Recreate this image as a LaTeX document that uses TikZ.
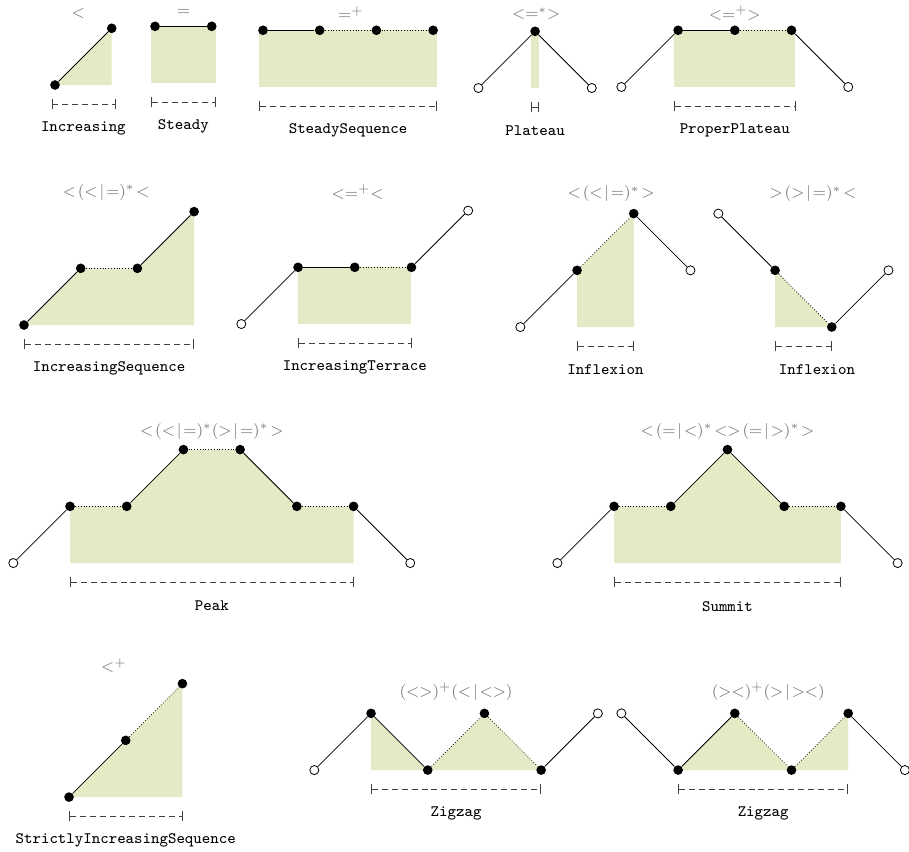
\documentclass[tikz,border=0pt]{standalone}
\usepackage{amsmath}
\usepackage{tikz}
\usetikzlibrary{arrows.meta}
\definecolor{cfill}{HTML}{E2EBC6}
\definecolor{cgray}{HTML}{7A7A7A}

\begin{document}
\begin{tikzpicture}[
  dot/.style={circle, fill=black, inner sep=0pt, minimum size=0.17cm},
  hollow/.style={circle, draw=black, fill=white, inner sep=0pt, minimum size=0.16cm, line width=0.4pt},
  seg/.style={line width=0.4pt},
  dseg/.style={line width=0.4pt, densely dotted},
  area/.style={fill=cfill},
  measure/.style={black!75, line width=0.45pt, dash pattern=on 3pt off 2pt, {Bar[width=5pt]}-{Bar[width=5pt]}},
  rx/.style={cgray, font={\footnotesize\thickmuskip=2mu}},
  lbl/.style={font=\footnotesize\ttfamily}
]
  \useasboundingbox (0,0) rectangle (16.03,-15.01);

  % Increasing
  \begin{scope}[shift={(0.970,-1.499)}]
    \fill[area] (0,0) -- (1,1) -- (1,0) -- cycle;
    \node[dot] (inc0) at (0,0) {};
    \node[dot] (inc1) at (1,1) {};
    \draw[seg] (inc0) -- (inc1);
    \draw[measure] (-0.06,-0.34) -- (1.07,-0.34);
    \node[rx] (inc-rx) at (0.41,1.26) {$<$};
    \node[lbl] (inc-lbl) at (0.5,-0.76) {Increasing};
  \end{scope}

  % Steady
  \begin{scope}[shift={(2.734,-1.464)}]
    \fill[area] (-0.07,0) rectangle (1.07,1);
    \node[dot] (std0) at (0,1) {};
    \node[dot] (std1) at (1,1) {};
    \draw[seg] (std0) -- (std1);
    \draw[measure] (-0.07,-0.34) -- (1.07,-0.34);
    \node[rx] (std-rx) at (0.5,1.24) {$=$};
    \node[lbl] (std-lbl) at (0.5,-0.76) {Steady};
  \end{scope}

  % SteadySequence
  \begin{scope}[shift={(4.638,-1.534)}]
    \fill[area] (-0.07,0) rectangle (3.07,1);
    \foreach \i in {0,...,3}
      \node[dot] (sts\i) at (\i,1) {};
    \foreach \u/\v/\s in {sts0/sts1/seg, sts1/sts2/dseg, sts2/sts3/dseg}
      \draw[\s] (\u) -- (\v);
    \draw[measure] (-0.07,-0.34) -- (3.07,-0.34);
    \node[rx] (sts-rx) at (1.55,1.3) {$=^+$};
    \node[lbl] (sts-lbl) at (1.5,-0.76) {SteadySequence};
  \end{scope}

  % Plateau
  \begin{scope}[shift={(9.436,-1.552)}]
    \fill[area] (-0.07,0) rectangle (0.07,1);
    \node[hollow] (plt0) at (-1,0) {};
    \node[dot] (plt1) at (0,1) {};
    \node[hollow] (plt2) at (1,0) {};
    \draw[seg] (plt0) -- (plt1) -- (plt2);
    \draw[measure] (-0.07,-0.34) -- (0.07,-0.34);
    \node[rx] (plt-rx) at (0.02,1.31) {$<=^*>$};
    \node[lbl] (plt-lbl) at (0,-0.76) {Plateau};
  \end{scope}

  % ProperPlateau
  \begin{scope}[shift={(11.958,-1.534)}]
    \fill[area] (-0.07,0) rectangle (2.07,1);
    \node[hollow] (ppl0) at (-1,0) {};
    \foreach \i in {1,2,3}
      \node[dot] (ppl\i) at (\i-1,1) {};
    \node[hollow] (ppl4) at (3,0) {};
    \foreach \u/\v/\s in {ppl0/ppl1/seg, ppl1/ppl2/seg, ppl2/ppl3/dseg, ppl3/ppl4/seg}
      \draw[\s] (\u) -- (\v);
    \draw[measure] (-0.07,-0.34) -- (2.07,-0.34);
    \node[rx] (ppl-rx) at (1,1.3) {$<=^+>$};
    \node[lbl] (ppl-lbl) at (1,-0.76) {ProperPlateau};
  \end{scope}

  % IncreasingSequence
  \begin{scope}[shift={(0.423,-5.732)}]
    \fill[area] (0,0) -- (1,1) -- (2,1) -- (3,2) -- (3,0) -- cycle;
    \foreach \i/\x/\y in {0/0/0, 1/1/1, 2/2/1, 3/3/2}
      \node[dot] (iseq\i) at (\x,\y) {};
    \foreach \u/\v/\s in {iseq0/iseq1/seg, iseq1/iseq2/dseg, iseq2/iseq3/seg}
      \draw[\s] (\u) -- (\v);
    \draw[measure] (0,-0.34) -- (3,-0.34);
    \node[rx] (iseq-rx) at (1.45,2.34) {$<(<|=)^*<$};
    \node[lbl] (iseq-lbl) at (1.5,-0.76) {IncreasingSequence};
  \end{scope}

  % IncreasingTerrace
  \begin{scope}[shift={(5.256,-5.714)}]
    \fill[area] (0,0) rectangle (2,1);
    \node[hollow] (ter0) at (-1,0) {};
    \foreach \i in {1,2,3}
      \node[dot] (ter\i) at (\i-1,1) {};
    \node[hollow] (ter4) at (3,2) {};
    \foreach \u/\v/\s in {ter0/ter1/seg, ter1/ter2/seg, ter2/ter3/dseg, ter3/ter4/seg}
      \draw[\s] (\u) -- (\v);
    \draw[measure] (0,-0.34) -- (2,-0.34);
    \node[rx] (ter-rx) at (1.05,2.32) {$<=^+<$};
    \node[lbl] (ter-lbl) at (1,-0.76) {IncreasingTerrace};
  \end{scope}

  % Inflexion (up)
  \begin{scope}[shift={(10.176,-5.767)}]
    \fill[area] (0,0) -- (0,1) -- (1,2) -- (1,0) -- cycle;
    \node[hollow] (infa0) at (-1,0) {};
    \node[dot] (infa1) at (0,1) {};
    \node[dot] (infa2) at (1,2) {};
    \node[hollow] (infa3) at (2,1) {};
    \foreach \u/\v/\s in {infa0/infa1/seg, infa1/infa2/dseg, infa2/infa3/seg}
      \draw[\s] (\u) -- (\v);
    \draw[measure] (0,-0.34) -- (1,-0.34);
    \node[rx] (infa-rx) at (0.6,2.35) {$<(<|=)^*>$};
    \node[lbl] (infa-lbl) at (0.5,-0.76) {Inflexion};
  \end{scope}

  % Inflexion (down)
  \begin{scope}[shift={(13.668,-5.767)}]
    \fill[area] (0,0) -- (0,1) -- (1,0) -- cycle;
    \node[hollow] (infb0) at (-1,2) {};
    \node[dot] (infb1) at (0,1) {};
    \node[dot] (infb2) at (1,0) {};
    \node[hollow] (infb3) at (2,1) {};
    \foreach \u/\v/\s in {infb0/infb1/seg, infb1/infb2/dseg, infb2/infb3/seg}
      \draw[\s] (\u) -- (\v);
    \draw[measure] (0,-0.34) -- (1,-0.34);
    \node[rx] (infb-rx) at (0.67,2.35) {$>(>|=)^*<$};
    \node[lbl] (infb-lbl) at (0.74,-0.76) {Inflexion};
  \end{scope}

  % Peak
  \begin{scope}[shift={(1.235,-9.929)}]
    \fill[area] (0,0) -- (0,1) -- (1,1) -- (2,2) -- (3,2) -- (4,1) -- (5,1) -- (5,0) -- cycle;
    \node[hollow] (pk0) at (-1,0) {};
    \foreach \i/\x/\y in {1/0/1, 2/1/1, 3/2/2, 4/3/2, 5/4/1, 6/5/1}
      \node[dot] (pk\i) at (\x,\y) {};
    \node[hollow] (pk7) at (6,0) {};
    \foreach \u/\v/\s in {pk0/pk1/seg, pk1/pk2/dseg, pk2/pk3/seg, pk3/pk4/dseg,
                          pk4/pk5/seg, pk5/pk6/dseg, pk6/pk7/seg}
      \draw[\s] (\u) -- (\v);
    \draw[measure] (0,-0.34) -- (5,-0.34);
    \node[rx] (pk-rx) at (2.5,2.32) {$<(<|=)^*(>|=)^*>$};
    \node[lbl] (pk-lbl) at (2.5,-0.76) {Peak};
  \end{scope}

  % Summit
  \begin{scope}[shift={(10.829,-9.929)}]
    \fill[area] (0,0) -- (0,1) -- (1,1) -- (2,2) -- (3,1) -- (4,1) -- (4,0) -- cycle;
    \node[hollow] (sm0) at (-1,0) {};
    \foreach \i/\x/\y in {1/0/1, 2/1/1, 3/2/2, 4/3/1, 5/4/1}
      \node[dot] (sm\i) at (\x,\y) {};
    \node[hollow] (sm6) at (5,0) {};
    \foreach \u/\v/\s in {sm0/sm1/seg, sm1/sm2/dseg, sm2/sm3/seg, sm3/sm4/seg,
                          sm4/sm5/dseg, sm5/sm6/seg}
      \draw[\s] (\u) -- (\v);
    \draw[measure] (0,-0.34) -- (4,-0.34);
    \node[rx] (sm-rx) at (2,2.32) {$<(=|<)^*<>(=|>)^*>$};
    \node[lbl] (sm-lbl) at (2,-0.76) {Summit};
  \end{scope}

  % StrictlyIncreasingSequence
  \begin{scope}[shift={(1.217,-14.056)}]
    \fill[area] (0,0) -- (2,2) -- (2,0) -- cycle;
    \foreach \i in {0,1,2}
      \node[dot] (sis\i) at (\i,\i) {};
    \draw[seg] (sis0) -- (sis1);
    \draw[dseg] (sis1) -- (sis2);
    \draw[measure] (0,-0.34) -- (2,-0.34);
    \node[rx] (sis-rx) at (0.79,2.32) {$<^+$};
    \node[lbl] (sis-lbl) at (1,-0.76) {StrictlyIncreasingSequence};
  \end{scope}

  % Zigzag (up first)
  \begin{scope}[shift={(6.543,-13.580)}]
    \fill[area] (0,0) -- (0,1) -- (1,0) -- (2,1) -- (3,0) -- cycle;
    \node[hollow] (zza0) at (-1,0) {};
    \foreach \i/\x/\y in {1/0/1, 2/1/0, 3/2/1, 4/3/0}
      \node[dot] (zza\i) at (\x,\y) {};
    \node[hollow] (zza5) at (4,1) {};
    \foreach \u/\v/\s in {zza0/zza1/seg, zza1/zza2/seg, zza2/zza3/dseg, zza3/zza4/dseg, zza4/zza5/seg}
      \draw[\s] (\u) -- (\v);
    \draw[measure] (0,-0.34) -- (3,-0.34);
    \node[rx] (zza-rx) at (1.5,1.38) {$(<>)^+(<|<>)$};
    \node[lbl] (zza-lbl) at (1.5,-0.76) {Zigzag};
  \end{scope}

  % Zigzag (down first)
  \begin{scope}[shift={(11.958,-13.580)}]
    \fill[area] (0,0) -- (1,1) -- (2,0) -- (3,1) -- (3,0) -- cycle;
    \node[hollow] (zzb0) at (-1,1) {};
    \foreach \i/\x/\y in {1/0/0, 2/1/1, 3/2/0, 4/3/1}
      \node[dot] (zzb\i) at (\x,\y) {};
    \node[hollow] (zzb5) at (4,0) {};
    \foreach \u/\v/\s in {zzb0/zzb1/seg, zzb1/zzb2/seg, zzb2/zzb3/dseg, zzb3/zzb4/dseg, zzb4/zzb5/seg}
      \draw[\s] (\u) -- (\v);
    \draw[measure] (0,-0.34) -- (3,-0.34);
    \node[rx] (zzb-rx) at (1.59,1.38) {$(><)^+(>|><)$};
    \node[lbl] (zzb-lbl) at (1.5,-0.76) {Zigzag};
  \end{scope}
\end{tikzpicture}
\end{document}
